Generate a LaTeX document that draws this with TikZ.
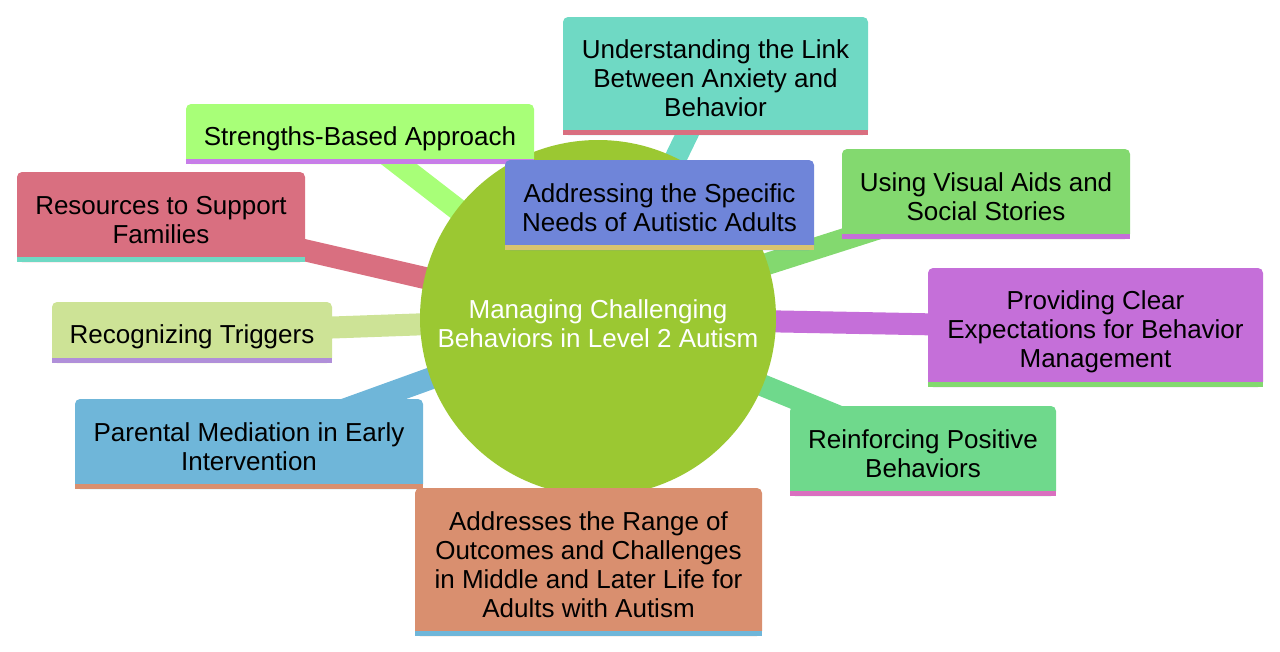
\documentclass[tikz,border=0pt]{standalone}
\usepackage{fontspec}
\setmainfont{Liberation Sans}
\usetikzlibrary{backgrounds}
\definecolor{cC}{HTML}{9BC832}
\definecolor{cU}{HTML}{6FD9C4}
\definecolor{cS}{HTML}{A8FF78}
\definecolor{cA}{HTML}{6F85D9}
\definecolor{cV}{HTML}{83D96F}
\definecolor{cR}{HTML}{D96F80}
\definecolor{cT}{HTML}{CDE396}
\definecolor{cP}{HTML}{C56FD9}
\definecolor{cM}{HTML}{6FB6D9}
\definecolor{cF}{HTML}{6FD98C}
\definecolor{cO}{HTML}{D98F6F}
\definecolor{sU}{HTML}{D96F80}
\definecolor{sS}{HTML}{C77DE8}
\definecolor{sA}{HTML}{D9C46F}
\definecolor{sV}{HTML}{C56FD9}
\definecolor{sR}{HTML}{6FD9C4}
\definecolor{sT}{HTML}{B08FD9}
\definecolor{sP}{HTML}{83D96F}
\definecolor{sM}{HTML}{D98F6F}
\definecolor{sF}{HTML}{D96FBF}
\definecolor{sO}{HTML}{6FB6D9}
\begin{document}
\begin{tikzpicture}[x=0.75pt,y=-0.75pt,
  leaf/.style={rectangle, rounded corners=3.75pt, inner sep=0pt},
  txt/.style={inner sep=0pt, align=center, font=\fontsize{19.5}{21.75}\selectfont, text=black},
  conn/.style={line width=16.5pt}]
\useasboundingbox (0,0) rectangle (1280,651);
\node[circle, fill=cC, minimum size=267pt, inner sep=0pt] (c) at (598,318) {};
\node[txt, text=white] (ct) at ([yshift=-4.5pt]c.center) {Managing Challenging\\Behaviors in Level 2 Autism};

\node[leaf, fill=cU, minimum width=228.75pt, minimum height=88.5pt] (u) at (715.5,76) {};
\fill[sU] ([yshift=3.75pt]u.south west) rectangle (u.south east);
\node[txt] (ut) at ([yshift=-1.5pt]u.center) {Understanding the Link\\Between Anxiety and\\Behavior};

\node[leaf, fill=cS, minimum width=261pt, minimum height=45pt] (s) at (360,134) {};
\fill[sS] ([yshift=3.75pt]s.south west) rectangle (s.south east);
\node[txt] (st) at ([yshift=-3.5pt]s.center) {Strengths-Based Approach};

\node[leaf, fill=cV, minimum width=216pt, minimum height=67.5pt] (v) at (986,194) {};
\fill[sV] ([yshift=3.75pt]v.south west) rectangle (v.south east);
\node[txt] (vt) at ([yshift=-2pt]v.center) {Using Visual Aids and\\Social Stories};

\node[leaf, fill=cR, minimum width=216pt, minimum height=67.5pt] (r) at (161,217) {};
\fill[sR] ([yshift=3.75pt]r.south west) rectangle (r.south east);
\node[txt] (rt) at ([yshift=-2.25pt]r.center) {Resources to Support\\Families};

\node[leaf, fill=cT, minimum width=210pt, minimum height=45.75pt] (t) at (192,332.5) {};
\fill[sT] ([yshift=3.75pt]t.south west) rectangle (t.south east);
\node[txt] (tt) at ([yshift=-3.5pt]t.center) {Recognizing Triggers};

\node[leaf, fill=cP, minimum width=251.25pt, minimum height=89.25pt] (p) at (1095.5,327.5) {};
\fill[sP] ([yshift=3.75pt]p.south west) rectangle (p.south east);
\node[txt] (pt) at ([yshift=-3.5pt]p.center) {Providing Clear\\Expectations for Behavior\\Management};

\node[leaf, fill=cM, minimum width=261pt, minimum height=67.5pt] (m) at (249,444) {};
\fill[sM] ([yshift=3.75pt]m.south west) rectangle (m.south east);
\node[txt] (mt) at ([yshift=-2.25pt]m.center) {Parental Mediation in Early\\Intervention};

\node[leaf, fill=cF, minimum width=199.5pt, minimum height=67.5pt] (f) at (923,451) {};
\fill[sF] ([yshift=3.75pt]f.south west) rectangle (f.south east);
\node[txt] (ft) at ([yshift=-2pt]f.center) {Reinforcing Positive\\Behaviors};

\node[leaf, fill=cO, minimum width=260.25pt, minimum height=111pt] (o) at (588.5,562) {};
\fill[sO] ([yshift=3.75pt]o.south west) rectangle (o.south east);
\node[txt] (ot) at ([yshift=-2.25pt]o.center) {Addresses the Range of\\Outcomes and Challenges\\in Middle and Later Life for\\Adults with Autism};

\node[leaf, fill=cA, minimum width=231.75pt, minimum height=67.5pt] (a) at (659.5,205) {};
\fill[sA] ([yshift=3.75pt]a.south west) rectangle (a.south east);
\node[txt] (at) at ([yshift=-2.25pt]a.center) {Addressing the Specific\\Needs of Autistic Adults};

\begin{scope}[on background layer]
\draw[conn, cU] (c.center) -- (u.center);
\draw[conn, cS] (c.center) -- (s.center);
\draw[conn, cV] (c.center) -- (v.center);
\draw[conn, cR] (c.center) -- (r.center);
\draw[conn, cT] (c.center) -- (t.center);
\draw[conn, cP] (c.center) -- (p.center);
\draw[conn, cM] (c.center) -- (m.center);
\draw[conn, cF] (c.center) -- (f.center);
\draw[conn, cO] (c.center) -- (o.center);
\draw[conn, cA] (c.center) -- (a.center);
\end{scope}
\end{tikzpicture}
\end{document}
